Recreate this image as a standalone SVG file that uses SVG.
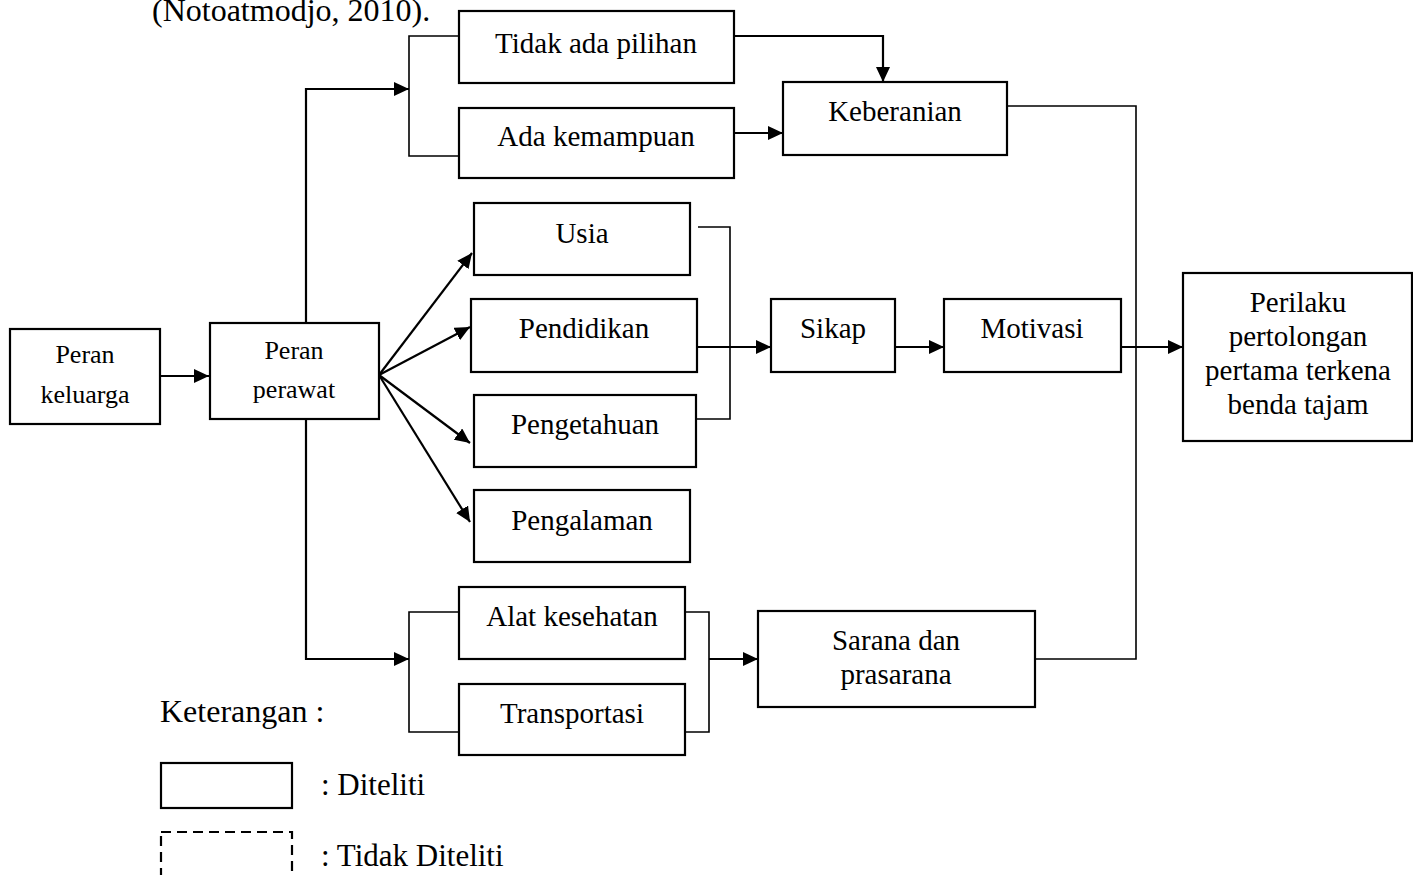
<svg xmlns="http://www.w3.org/2000/svg" width="1413" height="875" viewBox="0 0 1413 875">
<style>
  .box { fill: #fff; stroke: #000; stroke-width: 2.2; }
  .dash { fill: none; stroke: #000; stroke-width: 2.2; stroke-dasharray: 10 6; }
  .t { font-family: "Liberation Serif", "Times New Roman", serif; font-size: 29px; fill: #000; text-anchor: middle; }
  .ts { font-family: "Liberation Serif", "Times New Roman", serif; font-size: 26px; fill: #000; text-anchor: middle; }
  .tl { font-family: "Liberation Serif", "Times New Roman", serif; font-size: 31px; fill: #000; }
  .c { fill: none; stroke: #000; stroke-width: 2.2; }
  .b { fill: none; stroke: #000; stroke-width: 1.6; }
</style>
<defs>
  <marker id="ah" markerUnits="userSpaceOnUse" markerWidth="15" markerHeight="14" refX="15" refY="7" orient="auto">
    <path d="M0,0 L15,7 L0,14 z" fill="#000"/>
  </marker>
</defs>
<rect width="1413" height="875" fill="#fff"/>
<text class="tl" x="152" y="21" style="font-size:32px">(Notoatmodjo, 2010).</text>

<g id="connectors">
  <line class="c" x1="160" y1="376" x2="209" y2="376" marker-end="url(#ah)"/>
  <polyline class="c" points="306,323 306,89 409,89" marker-end="url(#ah)"/>
  <polyline class="b" points="459,36 409,36 409,156 459,156"/>
  <polyline class="c" points="734,36 883,36 883,82" marker-end="url(#ah)"/>
  <line class="c" x1="734" y1="133" x2="783" y2="133" marker-end="url(#ah)"/>
  <line class="c" x1="379" y1="375" x2="472" y2="253" marker-end="url(#ah)"/>
  <line class="c" x1="379" y1="375" x2="470" y2="327" marker-end="url(#ah)"/>
  <line class="c" x1="379" y1="375" x2="470" y2="443" marker-end="url(#ah)"/>
  <line class="c" x1="379" y1="375" x2="470" y2="522" marker-end="url(#ah)"/>
  <polyline class="b" points="698,227 730,227 730,419 697,419"/>
  <line class="c" x1="697" y1="347" x2="771" y2="347" marker-end="url(#ah)"/>
  <line class="c" x1="895" y1="347" x2="944" y2="347" marker-end="url(#ah)"/>
  <polyline class="b" points="1007,106 1136,106 1136,659 1035,659"/>
  <line class="c" x1="1121" y1="347" x2="1183" y2="347" marker-end="url(#ah)"/>
  <polyline class="c" points="306,419 306,659 409,659" marker-end="url(#ah)"/>
  <polyline class="b" points="459,612 409,612 409,732 459,732"/>
  <polyline class="b" points="685,612 709,612 709,732 685,732"/>
  <line class="c" x1="709" y1="659" x2="758" y2="659" marker-end="url(#ah)"/>
</g>

<g id="peran-keluarga">
  <rect class="box" x="10" y="329" width="150" height="95"/>
  <text class="ts" x="85" y="363">Peran</text>
  <text class="ts" x="85" y="403">keluarga</text>
</g>
<g id="peran-perawat">
  <rect class="box" x="210" y="323" width="169" height="96"/>
  <text class="ts" x="294" y="359">Peran</text>
  <text class="ts" x="294" y="398">perawat</text>
</g>
<g id="tidak-ada-pilihan">
  <rect class="box" x="459" y="11" width="275" height="72"/>
  <text class="t" x="596" y="53">Tidak ada pilihan</text>
</g>
<g id="ada-kemampuan">
  <rect class="box" x="459" y="108" width="275" height="70"/>
  <text class="t" x="596" y="146">Ada kemampuan</text>
</g>
<g id="keberanian">
  <rect class="box" x="783" y="82" width="224" height="73"/>
  <text class="t" x="895" y="121">Keberanian</text>
</g>
<g id="usia">
  <rect class="box" x="474" y="203" width="216" height="72"/>
  <text class="t" x="582" y="243">Usia</text>
</g>
<g id="pendidikan">
  <rect class="box" x="471" y="299" width="226" height="73"/>
  <text class="t" x="584" y="338">Pendidikan</text>
</g>
<g id="pengetahuan">
  <rect class="box" x="474" y="395" width="222" height="72"/>
  <text class="t" x="585" y="434">Pengetahuan</text>
</g>
<g id="pengalaman">
  <rect class="box" x="474" y="490" width="216" height="72"/>
  <text class="t" x="582" y="530">Pengalaman</text>
</g>
<g id="sikap">
  <rect class="box" x="771" y="299" width="124" height="73"/>
  <text class="t" x="833" y="338">Sikap</text>
</g>
<g id="motivasi">
  <rect class="box" x="944" y="299" width="177" height="73"/>
  <text class="t" x="1032" y="338">Motivasi</text>
</g>
<g id="perilaku">
  <rect class="box" x="1183" y="273" width="229" height="168"/>
  <text class="t" x="1298" y="312">Perilaku</text>
  <text class="t" x="1298" y="346">pertolongan</text>
  <text class="t" x="1298" y="380">pertama terkena</text>
  <text class="t" x="1298" y="414">benda tajam</text>
</g>
<g id="alat-kesehatan">
  <rect class="box" x="459" y="587" width="226" height="72"/>
  <text class="t" x="572" y="626">Alat kesehatan</text>
</g>
<g id="transportasi">
  <rect class="box" x="459" y="684" width="226" height="71"/>
  <text class="t" x="572" y="723">Transportasi</text>
</g>
<g id="sarana">
  <rect class="box" x="758" y="611" width="277" height="96"/>
  <text class="t" x="896" y="650">Sarana dan</text>
  <text class="t" x="896" y="684">prasarana</text>
</g>

<g id="legend">
  <text class="tl" x="160" y="722" style="font-size:32px">Keterangan :</text>
  <rect class="box" x="161" y="763" width="131" height="45"/>
  <text class="tl" x="321" y="795">: Diteliti</text>
  <rect class="dash" x="161" y="832" width="131" height="60"/>
  <text class="tl" x="321" y="866">: Tidak Diteliti</text>
</g>
</svg>
